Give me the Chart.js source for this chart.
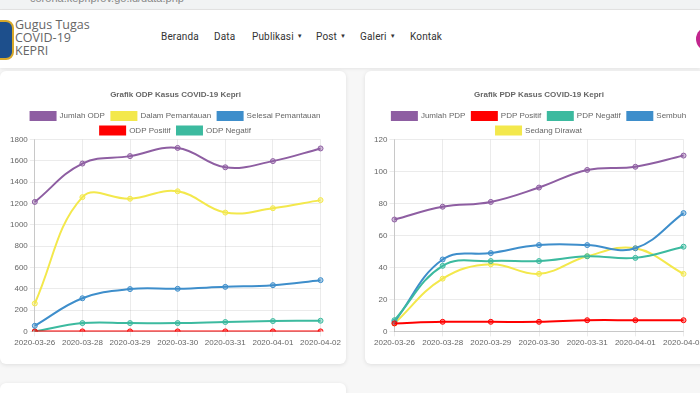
<!DOCTYPE html>
<html>
<head>
<meta charset="utf-8">
<title>Data COVID-19 Kepri</title>
<script src="https://cdn.jsdelivr.net/npm/chart.js@4.4.0/dist/chart.umd.min.js"></script>
<style>
  html, body { margin: 0; padding: 0; }
  body {
    width: 700px; height: 393px; overflow: hidden; position: relative;
    background: #f7f7f7; font-family: "Liberation Sans", Arial, sans-serif;
  }
  .urlbar {
    position: absolute; left: 0; top: 0; width: 700px; height: 9px;
    background: #f1f3f4; border-bottom: 1px solid #e4e4e4; overflow: hidden;
  }
  .urlbar span { position: absolute; left: 30px; top: -8px; font-size: 11px; color: #888; }
  .header {
    position: absolute; left: 0; top: 10px; width: 700px; height: 58px;
    background: #fff; box-shadow: 0 1px 3px rgba(0,0,0,0.08);
  }
  .logo {
    position: absolute; left: -12px; top: 10px; width: 22px; height: 36px;
    border-radius: 8px; background: #1d4f8c; border: 2px solid #d7a82a;
  }
  .brand {
    position: absolute; left: 15px; top: 8px; font-family: "Open Sans", sans-serif;
    font-size: 12.5px; line-height: 13px; color: #666;
  }
  .nav {
    position: absolute; top: 21px; font-family: Roboto, sans-serif;
    font-size: 10px; color: #333; letter-spacing: 0.15px; white-space: nowrap;
  }
  .caret { font-size: 6px; vertical-align: 2px; margin-left: 3px; }
  .avatar {
    position: absolute; left: 696px; top: 17px; width: 24px; height: 24px;
    border-radius: 50%; background: #c2268e;
  }
  .card {
    position: absolute; background: #fff; border-radius: 6px;
    box-shadow: 0 1px 4px rgba(0,0,0,0.10);
  }
  canvas { position: absolute; }
</style>
</head>
<body>
<div class="urlbar"><span>corona.kepriprov.go.id/data.php</span></div>
<div class="header">
  <div class="logo"></div>
  <div class="brand">Gugus Tugas<br>COVID-19<br>KEPRI</div>
  <div class="nav" style="left:161px">Beranda</div>
  <div class="nav" style="left:214px">Data</div>
  <div class="nav" style="left:252px">Publikasi<span class="caret">&#9660;</span></div>
  <div class="nav" style="left:316px">Post<span class="caret">&#9660;</span></div>
  <div class="nav" style="left:360px">Galeri<span class="caret">&#9660;</span></div>
  <div class="nav" style="left:410px">Kontak</div>
  <div class="avatar"></div>
</div>

<div class="card" style="left:0; top:71px; width:346px; height:293px;"></div>
<div class="card" style="left:365px; top:71px; width:345px; height:293px;"></div>
<div class="card" style="left:0; top:383px; width:346px; height:40px;"></div>

<canvas id="odpChart" width="335" height="267" style="left:8px; top:83px;"></canvas>
<canvas id="pdpChart" width="334" height="267" style="left:372px; top:83px;"></canvas>

<script>
// ---- Data ----
const dates = ['2020-03-26', '2020-03-28', '2020-03-29', '2020-03-30', '2020-03-31', '2020-04-01', '2020-04-02'];

// ODP
const jumlahOdp = [1215, 1575, 1645, 1722, 1540, 1598, 1717];
const dalamPemantauan = [262, 1260, 1245, 1315, 1115, 1156, 1232];
const selesaiPemantauan = [53, 311, 397, 400, 418, 434, 481];
const odpPositif = [0, 0, 0, 0, 0, 0, 0];
const odpNegatif = [0, 78, 78, 78, 88, 97, 100];

// PDP
const jumlahPdp = [70, 78, 81, 90, 101, 103, 110];
const pdpPositif = [5, 6, 6, 6, 7, 7, 7];
const pdpNegatif = [7, 41, 44, 44, 47, 46, 53];
const sembuh = [6, 45, 49, 54, 54, 52, 74];
const sedangDirawat = [5, 33, 42, 36, 47, 52, 36];

const odpTicks = { max: 1800, step: 200 };
const pdpTicks = { max: 120, step: 20 };

// ---- Colours ----
const PURPLE = '#8e5ea2';
const YELLOW = '#f3e84c';
const BLUE = '#3e8ecb';
const RED = '#ff0000';
const GREEN = '#3cba9f';

const FONT = "'Liberation Sans', Arial, sans-serif";

// legend in v2 style sits closer to the plot, trim the fixed gap under it
const tightLegend = {
    id: 'tightLegend',
    beforeInit(chart) {
        const origFit = chart.legend.fit;
        chart.legend.fit = function() {
            origFit.bind(chart.legend)();
            this.height -= 5;
        };
    }
};

function makeSet(label, data, color) {
    return {
        label: label,
        data: data,
        borderColor: color,
        backgroundColor: color,
        pointBackgroundColor: color + '66',
        pointBorderColor: color,
        borderWidth: 2,
        pointRadius: 2.5,
        pointBorderWidth: 1,
        tension: 0.4,
        fill: false
    };
}

function makeOptions(titleText, ticks) {
    return {
        responsive: false,
        animation: false,
        devicePixelRatio: 1,
        plugins: {
            title: {
                display: true,
                text: titleText,
                color: '#666',
                font: { family: FONT, size: 8, weight: 'bold' },
                padding: { top: 7, bottom: 6 }
            },
            legend: {
                display: true,
                position: 'top',
                labels: {
                    color: '#666',
                    font: { family: FONT, size: 8 },
                    boxWidth: 25,
                    boxHeight: 8,
                    padding: 6.5
                }
            },
            tooltip: { enabled: false }
        },
        scales: {
            x: {
                grid: { color: 'rgba(0,0,0,0.08)', tickLength: 5 },
                border: { color: 'rgba(0,0,0,0.15)' },
                ticks: {
                    color: '#666',
                    font: { family: FONT, size: 8 },
                    maxRotation: 0,
                    autoSkip: false,
                    padding: 2
                }
            },
            y: {
                min: 0,
                max: ticks.max,
                grid: { color: 'rgba(0,0,0,0.08)', tickLength: 5 },
                border: { color: 'rgba(0,0,0,0.15)' },
                ticks: {
                    stepSize: ticks.step,
                    color: '#666',
                    font: { family: FONT, size: 8 },
                    padding: 2,
                    callback: function(value) {
                        return String(value);
                    }
                }
            }
        }
    };
}

new Chart(document.getElementById('odpChart'), {
    type: 'line',
    data: {
        labels: dates,
        datasets: [
            makeSet('Jumlah ODP', jumlahOdp, PURPLE),
            makeSet('Dalam Pemantauan', dalamPemantauan, YELLOW),
            makeSet('Selesai Pemantauan', selesaiPemantauan, BLUE),
            makeSet('ODP Positif', odpPositif, RED),
            makeSet('ODP Negatif', odpNegatif, GREEN)
        ]
    },
    options: makeOptions('Grafik ODP Kasus COVID-19 Kepri', odpTicks),
    plugins: [tightLegend]
});

new Chart(document.getElementById('pdpChart'), {
    type: 'line',
    data: {
        labels: dates,
        datasets: [
            makeSet('Jumlah PDP', jumlahPdp, PURPLE),
            makeSet('PDP Positif', pdpPositif, RED),
            makeSet('PDP Negatif', pdpNegatif, GREEN),
            makeSet('Sembuh', sembuh, BLUE),
            makeSet('Sedang Dirawat', sedangDirawat, YELLOW)
        ]
    },
    options: makeOptions('Grafik PDP Kasus COVID-19 Kepri', pdpTicks),
    plugins: [tightLegend]
});
</script>
</body>
</html>
